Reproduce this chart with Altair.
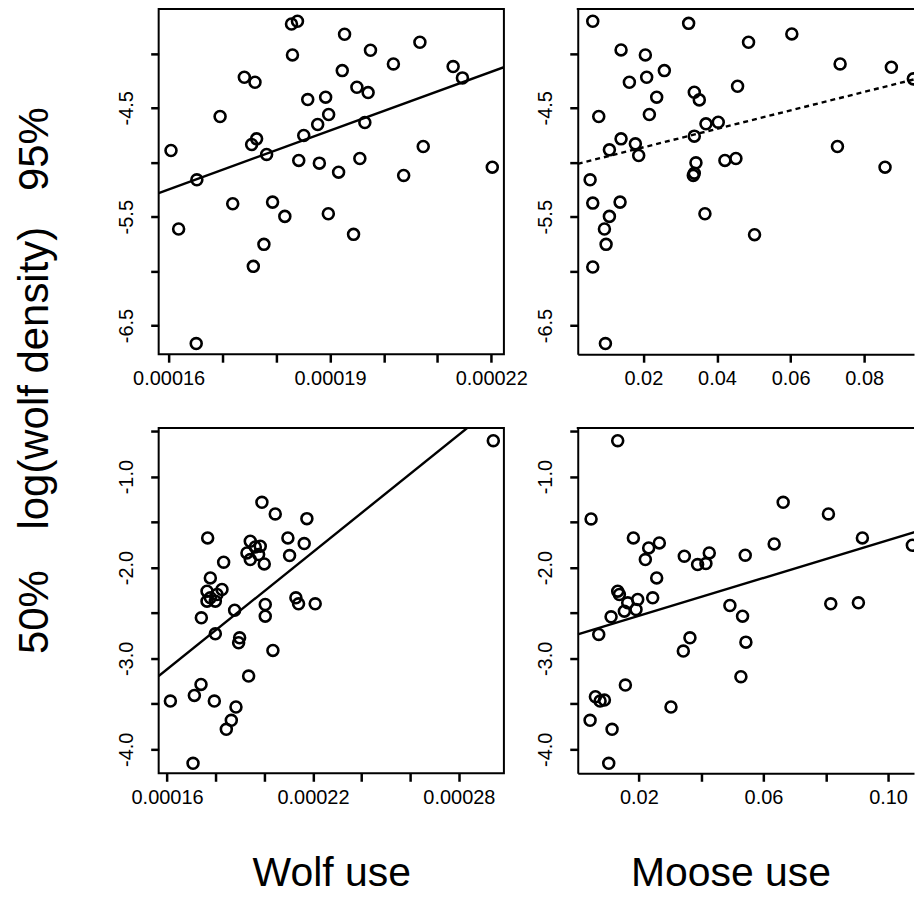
import altair as alt
import pandas as pd

# ---------------- data ----------------
# top-left: 95% density vs wolf use
w95_x = [0.00016044, 0.00016186, 0.00016525, 0.00016513, 0.00016957, 0.00017192, 0.00017408,
         0.00017606, 0.00017575, 0.00017772, 0.00017544, 0.00017636, 0.00017822, 0.00017933,
         0.00018161, 0.00018285, 0.00018396, 0.00018303, 0.00018420, 0.00018513, 0.00018587,
         0.00018772, 0.00018803, 0.00018920, 0.00018976, 0.00018970, 0.00019161, 0.00019229,
         0.00019272, 0.00019439, 0.00019501, 0.00019556, 0.00019649, 0.00019710, 0.00019754,
         0.00020180, 0.00020371, 0.00020673, 0.00020735, 0.00021291, 0.00021464, 0.00022019]
w95_y = [-4.892, -5.613, -5.161, -6.665, -4.580, -5.381, -4.219, -4.265, -5.956, -5.754, -4.837,
         -4.785, -4.928, -5.366, -5.497, -3.730, -3.705, -4.014, -4.983, -4.754, -4.424, -4.653,
         -5.008, -4.402, -4.561, -5.473, -5.091, -4.158, -3.824, -5.662, -4.311, -4.965, -4.635,
         -4.360, -3.971, -4.097, -5.121, -3.898, -4.855, -4.121, -4.225, -5.045]
w95_fit_x = [0.000158148, 0.000222352]
w95_fit_y = [-5.283, -4.127]

# top-right: 95% density vs moose use
m95_x = [0.00625, 0.03230, 0.06034, 0.04858, 0.01394, 0.02054, 0.02570, 0.02090, 0.01620, 0.02362,
         0.04560, 0.03384, 0.03520, 0.07346, 0.08739, 0.09336, 0.00788, 0.02163, 0.03701, 0.04035,
         0.03384, 0.01394, 0.01783, 0.01077, 0.01873, 0.07274, 0.03429, 0.03384, 0.03357, 0.04216,
         0.04515, 0.08567, 0.00553, 0.00625, 0.01367, 0.01077, 0.00942, 0.00987, 0.03673, 0.05021,
         0.00625, 0.00969]
m95_y = [-3.705, -3.724, -3.821, -3.898, -3.968, -4.014, -4.158, -4.219, -4.265, -4.402, -4.302,
         -4.357, -4.427, -4.097, -4.127, -4.234, -4.580, -4.561, -4.647, -4.632, -4.760, -4.785,
         -4.831, -4.886, -4.938, -4.855, -5.005, -5.100, -5.121, -4.983, -4.965, -5.045, -5.161,
         -5.375, -5.366, -5.497, -5.613, -5.754, -5.473, -5.665, -5.962, -6.665]
m95_fit_x = [0.00217, 0.09626]
m95_fit_y = [-5.014, -4.216]

# bottom-left: 50% density vs wolf use
w50_x = [0.00029416, 0.00019901, 0.00020449, 0.00021750, 0.00017670, 0.00020969, 0.00021640,
         0.00019422, 0.00019628, 0.00019833, 0.00019285, 0.00019765, 0.00021038, 0.00019422,
         0.00019997, 0.00018327, 0.00017780, 0.00017643, 0.00018259, 0.00017780, 0.00017985,
         0.00017643, 0.00018053, 0.00021298, 0.00021407, 0.00022092, 0.00020038, 0.00020038,
         0.00018779, 0.00017410, 0.00017985, 0.00018984, 0.00018943, 0.00020353, 0.00019354,
         0.00017396, 0.00017123, 0.00016137, 0.00017944, 0.00018834, 0.00018642, 0.00018437,
         0.00017068]
w50_y = [-0.604, -1.282, -1.410, -1.462, -1.674, -1.674, -1.736, -1.711, -1.773, -1.766, -1.839,
         -1.857, -1.868, -1.912, -1.960, -1.941, -2.114, -2.260, -2.242, -2.333, -2.370, -2.370,
         -2.297, -2.333, -2.399, -2.399, -2.407, -2.535, -2.469, -2.553, -2.729, -2.773, -2.828,
         -2.912, -3.194, -3.286, -3.407, -3.469, -3.469, -3.535, -3.681, -3.780, -4.154]
w50_fit_x = [0.00015655, 0.00029852]
w50_fit_y = [-3.194, -0.140]

# bottom-right: 50% density vs moose use
m50_x = [0.01321, 0.00466, 0.06633, 0.08086, 0.01824, 0.02657, 0.02315, 0.02208, 0.03459, 0.03886,
         0.04260, 0.04153, 0.05415, 0.06344, 0.09176, 0.10780, 0.02572, 0.01321, 0.01375, 0.01642,
         0.01963, 0.02444, 0.01909, 0.01108, 0.00712, 0.04923, 0.05329, 0.08161, 0.09048, 0.03640,
         0.03427, 0.05436, 0.05276, 0.01567, 0.00605, 0.00755, 0.00894, 0.03031, 0.00434, 0.01140,
         0.01033, 0.01535]
m50_y = [-0.604, -1.465, -1.282, -1.410, -1.674, -1.729, -1.784, -1.912, -1.875, -1.967, -1.839,
         -1.956, -1.864, -1.740, -1.674, -1.755, -2.114, -2.260, -2.297, -2.388, -2.352, -2.333,
         -2.462, -2.542, -2.736, -2.418, -2.535, -2.399, -2.388, -2.773, -2.919, -2.821, -3.201,
         -3.293, -3.421, -3.469, -3.458, -3.535, -3.681, -3.780, -4.154, -2.480]
m50_fit_x = [0.00038, 0.1115]
m50_fit_y = [-2.736, -1.579]

# axes (right-hand panels are cut by the page edge in the reference)
wolf95_xdom = [0.000158148, 0.000222352]
moose95_xdom = [0.00217, 0.09354]
wolf50_xdom = [0.00015655, 0.00029852]
moose50_xdom = [0.00038, 0.10833]
d95_ydom = [-6.763, -3.592]
d50_ydom = [-4.264, -0.465]

wolf95_xticks = [0.00016, 0.00017, 0.00018, 0.00019, 0.00020, 0.00021, 0.00022]
moose95_xticks = [0.02, 0.04, 0.06, 0.08]
wolf50_xticks = [0.00016, 0.00018, 0.00020, 0.00022, 0.00024, 0.00026, 0.00028]
moose50_xticks = [0.02, 0.04, 0.06, 0.08, 0.10]
d95_yticks = [-4.0, -4.5, -5.0, -5.5, -6.0, -6.5]
d50_yticks = [-0.5, -1.0, -1.5, -2.0, -2.5, -3.0, -3.5, -4.0]

row_labels = ["95%", "50%"]
col_labels = ["Wolf use", "Moose use"]
y_label = "log(wolf density)"

FONT = "Liberation Sans"
W = 346      # left panels
W2 = 337     # right panels (cut at page edge)
H = 346
ROWF = 42
COLF = 41
ROW_X = -111   # baseline of the rotated outer labels, relative to left frame

x_wolf95_expr = "round(datum.value*1e5) % 3 == 1 ? format(datum.value, '.5f') : ''"
x_wolf50_expr = "(round(datum.value*1e5) - 16) % 6 == 0 ? format(datum.value, '.5f') : ''"
x_moose95_expr = "format(datum.value, '.2f')"
x_moose50_expr = "(round(datum.value*100) - 2) % 4 == 0 ? format(datum.value, '.2f') : ''"
y95_expr = "(round(datum.value*2) % 2) != 0 ? replace(format(datum.value, '.1f'), '\u2212', '-') : ''"
y50_expr = "(round(datum.value*2) % 2) == 0 ? replace(format(datum.value, '.1f'), '\u2212', '-') : ''"


def panel(px, py, fx, fy, xdom, ydom, xticks, xexpr, yticks, yexpr, width, dashed=False,
          ytitle=None, ytitle_y=None, xtitle=None, xtitle_x=None, extra=None, open_right=False):
    pts = pd.DataFrame({"x": px, "y": py})
    fit = pd.DataFrame({"x": fx, "y": fy})

    xa = dict(values=xticks, labelExpr=xexpr, labelPadding=6, labelAngle=0)
    ya = dict(values=yticks, labelExpr=yexpr, labelAngle=270, labelAlign="center",
              labelBaseline="bottom", labelPadding=14)
    if open_right:
        xa.update(domain=True, domainWidth=2, domainColor="black")
        ya.update(domain=True, domainWidth=2, domainColor="black")
    if xtitle:
        xa.update(title=xtitle, titleX=xtitle_x, titleY=112, titleAlign="center",
                  titleBaseline="alphabetic", titleAngle=0, titleFontSize=COLF)
    else:
        xa.update(title=None)
    if ytitle:
        ya.update(title=ytitle, titleX=ROW_X, titleY=ytitle_y, titleAlign="center",
                  titleBaseline="alphabetic", titleAngle=270, titleFontSize=ROWF)
    else:
        ya.update(title=None)

    xenc = alt.X("x:Q", scale=alt.Scale(domain=xdom, nice=False, zero=False), axis=alt.Axis(**xa))
    yenc = alt.Y("y:Q", scale=alt.Scale(domain=ydom, nice=False, zero=False), axis=alt.Axis(**ya))

    points = alt.Chart(pts).mark_point(shape="circle", filled=False, size=120, strokeWidth=2.6,
                                       color="black", opacity=1, clip=True).encode(x=xenc, y=yenc)
    lkw = dict(color="black", strokeWidth=2.4, clip=True)
    if dashed:
        lkw["strokeDash"] = [5, 4]
    line = alt.Chart(fit).mark_line(**lkw).encode(x="x:Q", y="y:Q")
    layers = [points, line]
    if open_right:
        top_edge = alt.Chart(pd.DataFrame({"edge": ["top"]})).mark_rule(
            color="black", strokeWidth=2
        ).encode(x=alt.value(-1), x2=alt.value(width), y=alt.value(0))
        layers.append(top_edge)
    if extra is not None:
        layers.append(extra)
    ch = alt.layer(*layers).properties(width=width, height=H)
    if open_right:
        ch = ch.properties(view=alt.ViewBackground(stroke="transparent"))
    return ch


ylab_text = alt.Chart(pd.DataFrame({"t": [y_label]})).mark_text(
    angle=270, fontSize=ROWF, font=FONT, align="center", baseline="alphabetic", color="black"
).encode(text="t:N", x=alt.value(ROW_X), y=alt.value(370))

p1 = panel(w95_x, w95_y, w95_fit_x, w95_fit_y, wolf95_xdom, d95_ydom, wolf95_xticks, x_wolf95_expr,
           d95_yticks, y95_expr, W, ytitle=row_labels[0], ytitle_y=140, extra=ylab_text)
p2 = panel(m95_x, m95_y, m95_fit_x, m95_fit_y, moose95_xdom, d95_ydom, moose95_xticks, x_moose95_expr,
           d95_yticks, y95_expr, W2, dashed=True, open_right=True)
p3 = panel(w50_x, w50_y, w50_fit_x, w50_fit_y, wolf50_xdom, d50_ydom, wolf50_xticks, x_wolf50_expr,
           d50_yticks, y50_expr, W, ytitle=row_labels[1], ytitle_y=184,
           xtitle=col_labels[0], xtitle_x=W / 2)
p4 = panel(m50_x, m50_y, m50_fit_x, m50_fit_y, moose50_xdom, d50_ydom, moose50_xticks, x_moose50_expr,
           d50_yticks, y50_expr, W2, xtitle=col_labels[1], xtitle_x=153, open_right=True)

chart = alt.concat(p1, p2, p3, p4, columns=2, spacing=74, bounds="flush").properties(
    padding={"left": 5, "top": -2, "right": 0, "bottom": 0},
    background="white",
).configure_view(
    stroke="black", strokeWidth=2
).configure_axis(
    domain=False, grid=False, ticks=True, tickSize=8, tickWidth=2.5, tickColor="black",
    labelFont=FONT, labelFontSize=20, labelColor="black", labelFlush=False, labelOverlap=False,
    titleFont=FONT, titleFontWeight="normal", titleColor="black"
)

chart.save("out.html", embed_options={"renderer": "svg", "actions": False})
